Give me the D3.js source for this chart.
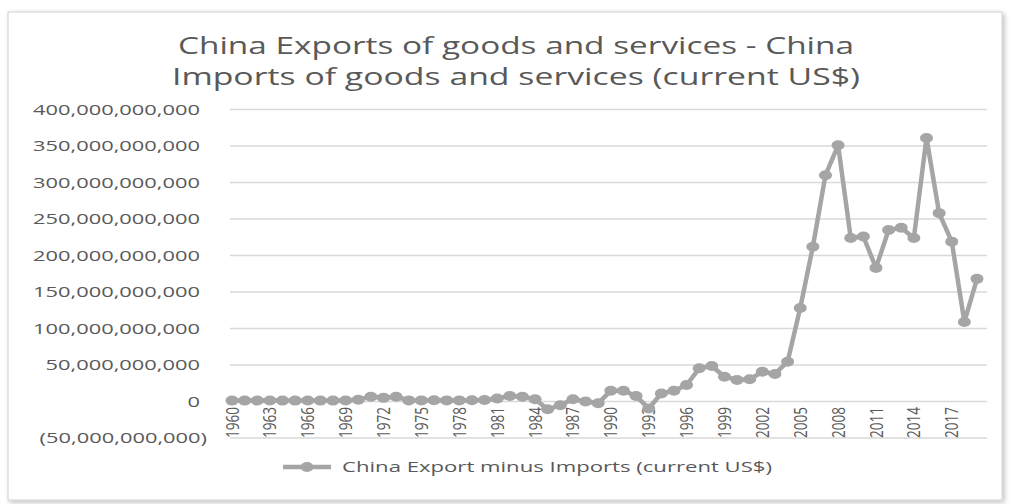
<!DOCTYPE html>
<html>
<head>
<meta charset="utf-8">
<script src="https://cdn.jsdelivr.net/npm/d3@7"></script>
<style>
  html, body { margin: 0; padding: 0; background: #fff; }
  svg { display: block; }
  text { font-family: "Open Sans", "DejaVu Sans", sans-serif; fill: #595959; }
</style>
</head>
<body>
<svg id="chart" width="1013" height="504"></svg>
<script>
// China exports minus imports of goods and services, current US$ (billions)
const years = d3.range(1960, 2020);
const netExportsBn = [
  1.2, 1.2, 1.3, 1.3, 1.2, 1.2, 1.3, 1.2, 1.2, 1.3,
  2.5, 6.5, 5.0, 6.5, 1.5, 1.5, 1.8, 1.5, 1.5, 1.8,
  2.0, 4.0, 7.5, 6.5, 3.0, -10.7, -5.0, 3.0, 0.0, -2.5,
  14.8, 14.8, 7.5, -9.5, 11.0, 14.8, 22.6, 45.5, 48.6, 34.0,
  29.5, 30.4, 40.8, 37.7, 54.5, 128, 212, 310, 351, 224,
  226, 183, 235, 238, 224, 361, 258, 219, 109, 168
];
const yTicks = [-50e9, 0, 50e9, 100e9, 150e9, 200e9, 250e9, 300e9, 350e9, 400e9];
const labelYears = d3.range(1960, 2018, 3);
const titleLines = [
  "China Exports of goods and services - China",
  "Imports of goods and services (current US$)"
];
const seriesName = "China Export minus Imports (current US$)";

const data = years.map((yr, i) => ({ year: yr, value: netExportsBn[i] * 1e9 }));

const svg = d3.select("#chart");
const lineColor = "#a5a5a5";
const gridColor = "#d9d9d9";

// stretch a text element horizontally by a factor
function stretch(sel, factor) {
  sel.each(function () {
    const w = this.getComputedTextLength();
    this.setAttribute("textLength", w * factor);
    this.setAttribute("lengthAdjust", "spacingAndGlyphs");
  });
}
function stretchTo(sel, width) {
  sel.attr("textLength", width).attr("lengthAdjust", "spacingAndGlyphs");
}

// frame with soft shadow
const defs = svg.append("defs");
const f = defs.append("filter").attr("id", "shadow").attr("x", "-5%").attr("y", "-5%").attr("width", "110%").attr("height", "110%");
f.append("feDropShadow").attr("dx", 2).attr("dy", 2).attr("stdDeviation", 2.5).attr("flood-color", "#000").attr("flood-opacity", 0.25);
svg.append("rect")
  .attr("x", 8).attr("y", 12).attr("width", 994).attr("height", 488)
  .attr("fill", "#fff").attr("stroke", "#d0d0d0").attr("stroke-width", 1)
  .attr("filter", "url(#shadow)");

// scales
const plot = { left: 230, right: 987, top: 109.5, bottom: 438 };
const x = d3.scalePoint().domain(years).range([232, 977]);
const y = d3.scaleLinear().domain([-50e9, 400e9]).range([plot.bottom, plot.top]);

// title
svg.append("g").selectAll("text").data(titleLines).join("text")
  .attr("x", 516).attr("y", (d, i) => 54 + i * 31)
  .attr("text-anchor", "middle")
  .style("font-size", "24px")
  .text(d => d)
  .call(s => s.each(function (d, i) {
    d3.select(this).call(stretchTo, i === 0 ? 676 : 688);
  }));

// gridlines
svg.append("g").selectAll("line").data(yTicks).join("line")
  .attr("x1", plot.left).attr("x2", plot.right)
  .attr("y1", d => y(d)).attr("y2", d => y(d))
  .attr("stroke", gridColor).attr("stroke-width", 1.5);

// y-axis labels
const fmt = v => v < 0 ? "(" + d3.format(",")(-v) + ")" : d3.format(",")(v);
const yLab = svg.append("g").selectAll("text").data(yTicks).join("text")
  .attr("x", d => d < 0 ? 207 : 200)
  .attr("y", d => y(d) + 5)
  .attr("text-anchor", "end")
  .style("font-size", "14px")
  .text(fmt);
const ref = yLab.filter(d => d === 400e9).node().getComputedTextLength();
stretch(yLab, 167 / ref);

// x-axis labels, rotated
svg.append("g").selectAll("text").data(labelYears).join("text")
  .attr("transform", d => `translate(${x(d)},407) scale(1.45,1) rotate(-90)`)
  .attr("text-anchor", "end")
  .attr("dy", "0.36em")
  .style("font-size", "12.5px")
  .text(d => d)
  .call(stretchTo, 31);

// series line and markers
svg.append("path").datum(data)
  .attr("fill", "none").attr("stroke", lineColor).attr("stroke-width", 4.5)
  .attr("stroke-linejoin", "round").attr("stroke-linecap", "round")
  .attr("d", d3.line().x(d => x(d.year)).y(d => y(d.value)));

svg.append("g").selectAll("ellipse").data(data).join("ellipse")
  .attr("cx", d => x(d.year)).attr("cy", d => y(d.value))
  .attr("rx", 6.5).attr("ry", 5)
  .attr("fill", lineColor);

// legend
const lg = svg.append("g").attr("transform", "translate(283,467)");
lg.append("line").attr("x1", 0).attr("x2", 48).attr("y1", 0).attr("y2", 0)
  .attr("stroke", lineColor).attr("stroke-width", 4.5);
lg.append("ellipse").attr("cx", 24).attr("cy", 0).attr("rx", 6.5).attr("ry", 5).attr("fill", lineColor);
lg.append("text").attr("x", 59).attr("y", 5)
  .style("font-size", "14px")
  .text(seriesName)
  .call(stretchTo, 430);
</script>
</body>
</html>
